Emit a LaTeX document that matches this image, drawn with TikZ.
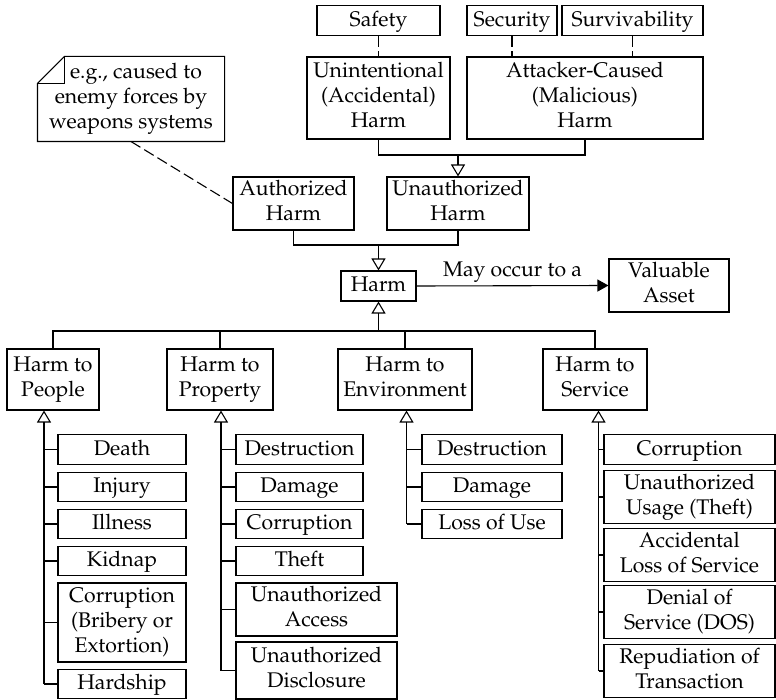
\documentclass[tikz,border=0pt]{standalone}
\IfFileExists{mathpazo.sty}
  {\usepackage[T1]{fontenc}\usepackage{mathpazo}}
  {\usepackage{fontspec}\setmainfont{Liberation Serif}}
\usetikzlibrary{arrows.meta}

% strut that keeps every line's text centred the same way in its box
\newcommand\boxstrut{\rule[-5.5pt]{0pt}{22.5pt}}

\tikzset{
  label font/.style={font=\fontsize{21.2}{25}\selectfont},
  box/.style={draw, line width=1.1pt, inner sep=0pt, align=center, label font,
    execute at begin node=\boxstrut, execute at end node=\boxstrut},
  one/.style={box, minimum height=29.5pt},
  two/.style={box, minimum height=53pt},
  link/.style={line width=1.1pt},
  trace/.style={line width=1.1pt, dash pattern=on 11pt off 4.5pt},
  gen/.style={link, -{Triangle[open, length=12pt, width=14pt]}},
  assoc/.style={link, -{Triangle[length=11pt, width=12pt]}},
}

\begin{document}
\begin{tikzpicture}[x=1pt, y=-1pt]
\useasboundingbox (0,0) rectangle (776,700);

% quality attributes
\node[one, minimum width=123pt] (safety) at (378.5,20.5) {Safety};
\node[one, minimum width=90pt]  (security) at (512,20.5) {Security};
\node[one, minimum width=141pt] (surviv) at (632.5,20.5) {Survivability};

% kinds of unauthorized harm
\node[box, minimum width=143pt, minimum height=82pt] (unint) at (378.5,98)
  {Unintentional\\(Accidental)\\Harm};
\node[box, minimum width=236pt, minimum height=82pt] (attack) at (585,98)
  {Attacker-Caused\\(Malicious)\\Harm};

% comment note with folded corner
\node[box, draw=none, minimum width=186pt, minimum height=84pt] (note) at (131,99)
  {\hspace*{10pt}e.g., caused to\\enemy forces by\\weapons systems};
\draw[link] ([xshift=27pt]note.north west) -- (note.north east) -- (note.south east)
  -- (note.south west) -- ([yshift=-27pt]note.north west) -- cycle;
\draw[link] ([xshift=27pt]note.north west) -- ([xshift=27pt, yshift=-27pt]note.north west)
  -- ([yshift=-27pt]note.north west);

\node[two, minimum width=121pt] (auth) at (293.5,203.5) {Authorized\\Harm};
\node[two, minimum width=142pt] (unauth) at (458,203.5) {Unauthorized\\Harm};

\node[one, minimum width=75pt, minimum height=30pt] (harm) at (378.5,286) {Harm};
\node[two, minimum width=120pt] (asset) at (669,285.5) {Valuable\\Asset};

% harm categories
\node[box, minimum width=92pt,  minimum height=61pt] (people) at (53,379.5)  {Harm to\\People};
\node[box, minimum width=106pt, minimum height=61pt] (prop)   at (220,379.5) {Harm to\\Property};
\node[box, minimum width=134pt, minimum height=61pt] (env)    at (405,379.5) {Harm to\\Environment};
\node[box, minimum width=104pt, minimum height=61pt] (serv)   at (595,379.5) {Harm to\\Service};

% harm to people
\node[one, minimum width=128pt] (p1) at (122,449.5) {Death};
\node[one, minimum width=128pt] (p2) at (122,487)   {Injury};
\node[one, minimum width=128pt] (p3) at (122,524)   {Illness};
\node[one, minimum width=128pt] (p4) at (122,561)   {Kidnap};
\node[box, minimum width=128pt, minimum height=79pt] (p5) at (122,622.5)
  {Corruption\\(Bribery or\\Extortion)};
\node[one, minimum width=128pt] (p6) at (122,684)   {Hardship};

% harm to property
\node[one, minimum width=127pt] (q1) at (299.5,449.5) {Destruction};
\node[one, minimum width=127pt] (q2) at (299.5,487)   {Damage};
\node[one, minimum width=127pt] (q3) at (299.5,524)   {Corruption};
\node[one, minimum width=127pt] (q4) at (299.5,561)   {Theft};
\node[two, minimum width=161pt] (q5) at (316.5,609.5) {Unauthorized\\Access};
\node[box, minimum width=161pt, minimum height=57pt] (q6) at (316.5,670.5)
  {Unauthorized\\Disclosure};

% harm to environment
\node[one, minimum width=140pt] (e1) at (492,449.5) {Destruction};
\node[one, minimum width=140pt] (e2) at (492,487)   {Damage};
\node[one, minimum width=140pt] (e3) at (492,524)   {Loss of Use};

% harm to service
\node[one, minimum width=171pt] (s1) at (689.5,449.5) {Corruption};
\node[two, minimum width=171pt] (s2) at (689.5,497)   {Unauthorized\\Usage (Theft)};
\node[two, minimum width=171pt] (s3) at (689.5,555)   {Accidental\\Loss of Service};
\node[two, minimum width=171pt] (s4) at (689.5,612)   {Denial of\\Service (DOS)};
\node[two, minimum width=171pt] (s5) at (689.5,671)   {Repudiation of\\Transaction};

% traces to quality attributes
\draw[trace] (safety.south) -- (unint.north);
\draw[trace] (security.south) -- (security.south |- attack.north);
\draw[trace] (surviv.south) -- (surviv.south |- attack.north);
\draw[trace] (note.south) -- (auth.west);

% generalizations
\coordinate (j1) at (458,155);
\draw[link] (unint.south) |- (j1);
\draw[link] (attack.south) |- (j1);
\draw[gen] (j1) -- (unauth.north);

\coordinate (j2) at (378.5,245);
\draw[link] (auth.south) |- (j2);
\draw[link] (unauth.south) |- (j2);
\draw[gen] (j2) -- (harm.north);

\coordinate (j3) at (378.5,331);
\draw[gen] (j3) -- (harm.south);
\draw[link] (people.north) |- (j3);
\draw[link] (prop.north) |- (j3);
\draw[link] (env.north) |- (j3);
\draw[link] (serv.north) |- (j3);

% association
\draw[assoc] (harm.east) -- node[above, inner sep=3pt, label font] {May occur to a} (asset.west);

% category spines
\coordinate (sp) at (44,684);
\draw[gen] (sp) -- (sp |- people.south);
\foreach \n in {p1,p2,p3,p4,p5,p6} \draw[link] (sp |- \n.west) -- (\n.west);

\coordinate (sq) at (221,670.5);
\draw[gen] (sq) -- (sq |- prop.south);
\foreach \n in {q1,q2,q3,q4,q5,q6} \draw[link] (sq |- \n.west) -- (\n.west);

\coordinate (se) at (406.5,524);
\draw[gen] (se) -- (se |- env.south);
\foreach \n in {e1,e2,e3} \draw[link] (se |- \n.west) -- (\n.west);

\coordinate (ss) at (598.5,671);
\draw[gen] (ss) -- (ss |- serv.south);
\foreach \n in {s1,s2,s3,s4,s5} \draw[link] (ss |- \n.west) -- (\n.west);

\end{tikzpicture}
\end{document}
